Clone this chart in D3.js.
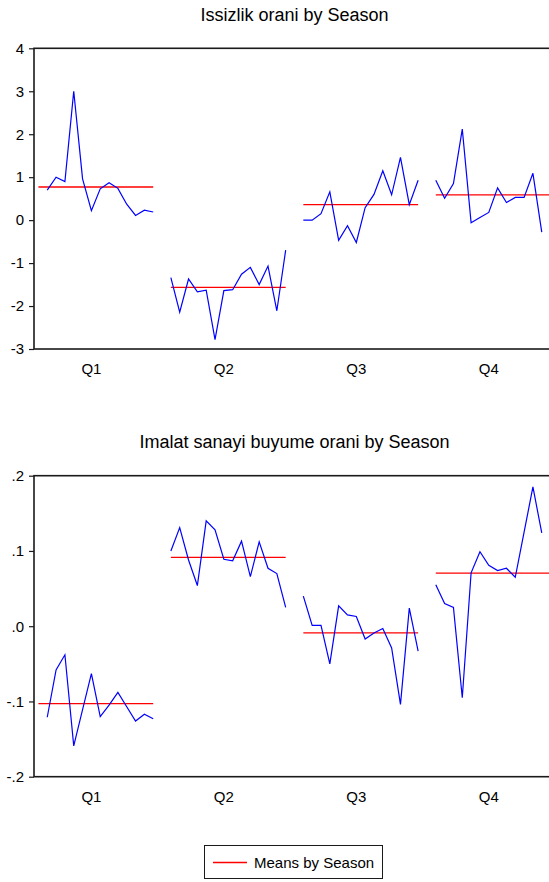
<!DOCTYPE html>
<head>
  <meta charset="utf-8">
  <title>Seasonal graphs</title>
  <style>
    body { margin: 0; background: #fff; }
    text { font-family: "Liberation Sans", Arial, sans-serif; fill: #000; }
  </style>
</head>

<body>

  <script src="https://cdn.jsdelivr.net/npm/d3@7/dist/d3.min.js"></script>

  <script>
    // seasons and the values of each season, one slot per year
    // (null where that year has no observation for the season)
    var seasons = ["Q1", "Q2", "Q3", "Q4"];

    var issizlikQ1 = [null, 0.70, 1.00, 0.90, 3.00, 0.96, 0.22, 0.73, 0.87, 0.74, 0.37, 0.11, 0.23, 0.19];
    var issizlikQ2 = [-1.34, -2.14, -1.37, -1.67, -1.63, -2.78, -1.64, -1.62, -1.26, -1.10, -1.50, -1.07, -2.11, -0.70];
    var issizlikQ3 = [0.00, 0.00, 0.15, 0.66, -0.47, -0.13, -0.52, 0.29, 0.60, 1.15, 0.59, 1.46, 0.36, 0.93];
    var issizlikQ4 = [0.93, 0.51, 0.85, 2.12, -0.06, 0.06, 0.18, 0.75, 0.41, 0.53, 0.53, 1.09, -0.28, null];

    var imalatQ1 = [null, -0.121, -0.058, -0.038, -0.159, -0.111, -0.063, -0.120, -0.105, -0.088, -0.107, -0.126, -0.117, -0.123];
    var imalatQ2 = [0.100, 0.131, 0.088, 0.054, 0.140, 0.128, 0.089, 0.087, 0.113, 0.066, 0.112, 0.077, 0.070, 0.025];
    var imalatQ3 = [0.040, 0.001, 0.001, -0.050, 0.027, 0.015, 0.013, -0.017, -0.009, -0.003, -0.029, -0.104, 0.024, -0.033];
    var imalatQ4 = [0.055, 0.030, 0.025, -0.095, 0.071, 0.099, 0.081, 0.074, 0.077, 0.065, 0.125, 0.185, 0.124, null];

    var issizlikTicks = [-3, -2, -1, 0, 1, 2, 3, 4];
    var issizlikTickLabels = ["-3", "-2", "-1", "0", "1", "2", "3", "4"];
    var imalatTicks = [-0.2, -0.1, 0, 0.1, 0.2];
    var imalatTickLabels = ["-.2", "-.1", ".0", ".1", ".2"];

    var width = 549, height = 882;
    var slots = 14, gap = 1;

    var svg = d3.select("body").append("svg")
        .attr("width", width)
        .attr("height", height);

    // global slot index -> pixel (frame runs a little past the right edge)
    var x = d3.scaleLinear()
        .domain([-0.5, seasons.length * (slots + gap) - gap - 0.5])
        .range([34, 555]);

    function drawPanel(opt) {
      var y = d3.scaleLinear().domain(opt.domain).range([opt.bottom, opt.top]);
      var g = svg.append("g");

      g.append("text")
          .attr("x", (x.range()[0] + x.range()[1]) / 2)
          .attr("y", opt.titleY)
          .attr("text-anchor", "middle")
          .style("font-size", "18px")
          .text(opt.title);

      var line = d3.line()
          .defined(function(d) { return d.v != null; })
          .x(function(d) { return x(d.i); })
          .y(function(d) { return y(d.v); });

      opt.series.forEach(function(vals, si) {
        var pts = vals.map(function(v, k) { return {i: si * (slots + gap) + k, v: v}; });
        var m = d3.mean(vals);

        g.append("line")
            .attr("x1", x(si * (slots + gap)))
            .attr("x2", x(si * (slots + gap) + slots - 1))
            .attr("y1", y(m))
            .attr("y2", y(m))
            .attr("stroke", "#ff0000")
            .attr("stroke-width", 1.3);

        g.append("path")
            .datum(pts)
            .attr("fill", "none")
            .attr("stroke", "#0000ff")
            .attr("stroke-width", 1.2)
            .attr("d", line);

        g.append("text")
            .attr("x", x(si * (slots + gap) + 6))
            .attr("y", opt.bottom + 25)
            .attr("text-anchor", "middle")
            .style("font-size", "15px")
            .text(seasons[si]);
      });

      g.append("rect")
          .attr("x", x.range()[0])
          .attr("y", opt.top)
          .attr("width", x.range()[1] - x.range()[0])
          .attr("height", opt.bottom - opt.top)
          .attr("fill", "none")
          .attr("stroke", "#1a1a1a")
          .attr("stroke-width", 1.6);

      var ax = g.append("g")
          .attr("transform", "translate(" + x.range()[0] + ",0)")
          .call(d3.axisLeft(y)
            .tickValues(opt.ticks)
            .tickFormat(function(d, i) { return opt.labels[i]; })
            .tickSize(5)
            .tickPadding(5));
      ax.select(".domain").remove();
      ax.selectAll("line").attr("stroke", "#1a1a1a").attr("stroke-width", 1.2);
      ax.selectAll("text")
          .attr("fill", "#000")
          .style("font-size", "15px")
          .style("font-family", "'Liberation Sans', Arial, sans-serif");
    }

    drawPanel({
      title: "Issizlik orani by Season",
      series: [issizlikQ1, issizlikQ2, issizlikQ3, issizlikQ4],
      domain: [-3, 4], ticks: issizlikTicks, labels: issizlikTickLabels,
      top: 48.3, bottom: 349, titleY: 20.7
    });

    drawPanel({
      title: "Imalat sanayi buyume orani by Season",
      series: [imalatQ1, imalatQ2, imalatQ3, imalatQ4],
      domain: [-0.2, 0.2], ticks: imalatTicks, labels: imalatTickLabels,
      top: 475.7, bottom: 776.7, titleY: 448
    });

    // legend
    var lg = svg.append("g");
    lg.append("rect")
        .attr("x", 204.5).attr("y", 845.5)
        .attr("width", 178).attr("height", 33)
        .attr("fill", "#fff")
        .attr("stroke", "#1a1a1a")
        .attr("stroke-width", 1);
    lg.append("line")
        .attr("x1", 213).attr("x2", 247)
        .attr("y1", 862.5).attr("y2", 862.5)
        .attr("stroke", "#ff0000")
        .attr("stroke-width", 1.3);
    lg.append("text")
        .attr("x", 254).attr("y", 867.5)
        .style("font-size", "15px")
        .text("Means by Season");
  </script>

</body>
